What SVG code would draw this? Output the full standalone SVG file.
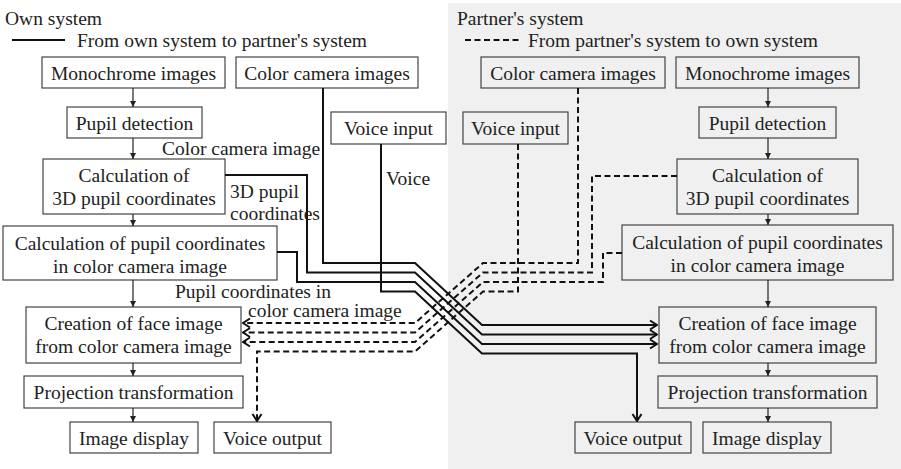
<svg xmlns="http://www.w3.org/2000/svg" width="901" height="469" viewBox="0 0 901 469" font-family="Liberation Serif, Times New Roman, DejaVu Serif, serif">
  <defs>
    <style>
      text { font-family: 'Liberation Serif', 'Times New Roman', 'DejaVu Serif', serif; font-size: 19.5px; fill: #222; }
      .c { text-anchor: middle; }
      .box { fill: #fff; stroke: #444; stroke-width: 1.2; }
      .boxR { fill: #eff0ef; stroke: #444; stroke-width: 1.2; }
      .flow { fill: none; stroke: #222; stroke-width: 1.2; marker-end: url(#tri); }
      .solid { fill: none; stroke: #111; stroke-width: 2; stroke-linejoin: miter; }
      .dash { fill: none; stroke: #111; stroke-width: 2; stroke-dasharray: 6 3.5; }
      .arr { marker-end: url(#chev); }
    </style>
    <marker id="tri" viewBox="-7 -4 8 8" markerWidth="8" markerHeight="8" refX="0" refY="0" orient="auto" markerUnits="userSpaceOnUse">
      <path d="M-6,-3 L0,0 L-6,3 Z" fill="#222"/>
    </marker>
    <marker id="chev" viewBox="-9 -6 10 12" markerWidth="10" markerHeight="12" refX="0" refY="0" orient="auto" markerUnits="userSpaceOnUse">
      <path d="M-7,-4.5 L0,0 L-7,4.5" fill="none" stroke="#111" stroke-width="2" stroke-dasharray="none"/>
    </marker>
  </defs>

  <!-- partner side panel -->
  <rect x="448" y="3" width="453" height="466" fill="#eff0ef"/>

  <!-- legend -->
  <g id="legend">
    <text x="5" y="25">Own system</text>
    <line x1="12" y1="40" x2="65" y2="40" class="solid"/>
    <text x="77" y="47">From own system to partner's system</text>
    <text x="457" y="25">Partner's system</text>
    <line x1="465" y1="40" x2="520" y2="40" class="dash"/>
    <text x="528" y="47">From partner's system to own system</text>
  </g>

  <!-- own system nodes -->
  <g id="monoL"><rect class="box" x="42" y="57" width="183" height="31"/><text class="c" x="133.5" y="79.5">Monochrome images</text></g>
  <g id="colorL"><rect class="box" x="236" y="57" width="182" height="31"/><text class="c" x="327" y="79.5">Color camera images</text></g>
  <g id="pupilL"><rect class="box" x="67" y="107" width="135" height="31"/><text class="c" x="134.5" y="129.5">Pupil detection</text></g>
  <g id="voiceInL"><rect class="box" x="331" y="112" width="115" height="32"/><text class="c" x="388.5" y="135">Voice input</text></g>
  <g id="calc3dL"><rect class="box" x="43" y="159" width="182" height="55"/><text class="c" x="134" y="182">Calculation of</text><text class="c" x="134" y="205">3D pupil coordinates</text></g>
  <g id="calcPcL"><rect class="box" x="3" y="226" width="274" height="54"/><text class="c" x="140" y="250">Calculation of pupil coordinates</text><text class="c" x="140" y="273">in color camera image</text></g>
  <g id="createL"><rect class="box" x="26" y="307" width="215" height="56"/><text class="c" x="133.5" y="330">Creation of face image</text><text class="c" x="133.5" y="353">from color camera image</text></g>
  <g id="projL"><rect class="box" x="24" y="376" width="219" height="32"/><text class="c" x="133.5" y="399">Projection transformation</text></g>
  <g id="dispL"><rect class="box" x="70" y="422" width="128" height="31"/><text class="c" x="134" y="444.5">Image display</text></g>
  <g id="voiceOutL"><rect class="box" x="214" y="422" width="117" height="31"/><text class="c" x="272.5" y="444.5">Voice output</text></g>

  <!-- partner system nodes -->
  <g id="colorR"><rect class="boxR" x="481" y="57" width="184" height="31"/><text class="c" x="573" y="79.5">Color camera images</text></g>
  <g id="monoR"><rect class="boxR" x="676" y="57" width="183" height="31"/><text class="c" x="767.5" y="79.5">Monochrome images</text></g>
  <g id="voiceInR"><rect class="boxR" x="463" y="112" width="105" height="32"/><text class="c" x="515.5" y="135">Voice input</text></g>
  <g id="pupilR"><rect class="boxR" x="699" y="107" width="137" height="31"/><text class="c" x="767.5" y="129.5">Pupil detection</text></g>
  <g id="calc3dR"><rect class="boxR" x="677" y="159" width="181" height="55"/><text class="c" x="767.5" y="182">Calculation of</text><text class="c" x="767.5" y="205">3D pupil coordinates</text></g>
  <g id="calcPcR"><rect class="boxR" x="622" y="225" width="271" height="55"/><text class="c" x="757.5" y="249">Calculation of pupil coordinates</text><text class="c" x="757.5" y="272">in color camera image</text></g>
  <g id="createR"><rect class="boxR" x="659" y="307" width="217" height="56"/><text class="c" x="767.5" y="330">Creation of face image</text><text class="c" x="767.5" y="353">from color camera image</text></g>
  <g id="projR"><rect class="boxR" x="658" y="376" width="219" height="32"/><text class="c" x="767.5" y="399">Projection transformation</text></g>
  <g id="voiceOutR"><rect class="boxR" x="575" y="422" width="116" height="31"/><text class="c" x="633" y="444.5">Voice output</text></g>
  <g id="dispR"><rect class="boxR" x="703" y="422" width="128" height="31"/><text class="c" x="767" y="444.5">Image display</text></g>

  <!-- connectors -->
  <g id="connectors">
    <!-- processing chains -->
    <path class="flow" d="M133,88 V107"/>
    <path class="flow" d="M133,138 V159"/>
    <path class="flow" d="M133,214 V226"/>
    <path class="flow" d="M133,280 V307"/>
    <path class="flow" d="M133,363 V376"/>
    <path class="flow" d="M133,408 V422"/>
    <path class="flow" d="M768,88 V107"/>
    <path class="flow" d="M768,138 V159"/>
    <path class="flow" d="M768,214 V225"/>
    <path class="flow" d="M768,280 V307"/>
    <path class="flow" d="M768,363 V376"/>
    <path class="flow" d="M768,408 V422"/>

    <!-- own system to partner -->
    <path class="solid arr" d="M323,88 V263 H415 L482,325 H657"/>
    <path class="solid arr" d="M225,175 H307 V272.5 H415 L482,334.5 H657"/>
    <path class="solid arr" d="M277,252 H297 V282 H415 L482,344 H657"/>
    <path class="solid arr" d="M381,144 V291.5 H415 L482,353.5 H637 V421"/>

    <!-- partner to own system -->
    <path class="dash arr" d="M578,88 V263 H483 L415,323 H243"/>
    <path class="dash arr" d="M677,176 H592 V272.5 H483 L415,332.5 H243"/>
    <path class="dash arr" d="M622,253 H603 V282 H483 L415,342 H243"/>
    <path class="dash arr" d="M518,144 V291.5 H483 L415,351.5 H257 V421"/>
  </g>

  <!-- connector labels -->
  <g id="labels">
    <text x="162" y="155">Color camera image</text>
    <text x="386" y="185">Voice</text>
    <text x="230" y="198">3D pupil</text>
    <text x="230" y="220">coordinates</text>
    <text x="175" y="298">Pupil coordinates in</text>
    <text x="248" y="317">color camera image</text>
  </g>
</svg>
